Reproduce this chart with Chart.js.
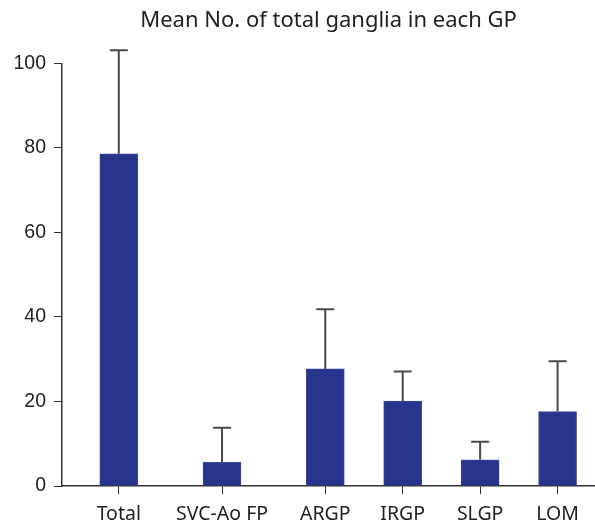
<!DOCTYPE html>
<html>
<head>
<meta charset="utf-8">
<script src="https://cdn.jsdelivr.net/npm/chart.js@4.4.1/dist/chart.umd.min.js"></script>
<style>
  html, body { margin: 0; padding: 0; background: #fff; }
  #wrap { width: 595px; height: 526px; }
</style>
</head>
<body>
<div id="wrap"><canvas id="chartGP"></canvas></div>
<script>
// ================= DATOS =================
const categories = ['Total', 'SVC-Ao FP', 'ARGP', 'IRGP', 'SLGP', 'LOM'];
const meanGanglia = [78.6, 5.6, 27.7, 20.1, 6.2, 17.6];
const upperError = [103.1, 13.8, 41.8, 27.1, 10.5, 29.5];
const yTicks = [0, 20, 40, 60, 80, 100];

// layout: where each group sits along the x axis (uneven spacing in the original)
const slots = [0, 4, 8, 11, 14, 17];

const barColor = '#29358c';

// ================= ERROR BARS =================
const errorBars = {
    id: 'errorBars',
    afterDatasetsDraw(chart) {
        const meta = chart.getDatasetMeta(0);
        const yScale = chart.scales.y;
        const ctx = chart.ctx;
        ctx.save();
        ctx.strokeStyle = '#4a4a4a';
        ctx.lineWidth = 2;
        meta.data.forEach((bar, i) => {
            const top = yScale.getPixelForValue(upperError[i]);
            ctx.beginPath();
            ctx.moveTo(bar.x, bar.y);
            ctx.lineTo(bar.x, top);
            ctx.moveTo(bar.x - 9, top);
            ctx.lineTo(bar.x + 9, top);
            ctx.stroke();
        });
        ctx.restore();
    }
};

// ================= GRÁFICO =================
new Chart(document.getElementById('chartGP'), {
    type: 'bar',
    data: {
        datasets: [{
            data: meanGanglia.map((v, i) => ({ x: slots[i], y: v })),
            backgroundColor: barColor,
            borderColor: '#3a46a0',
            borderWidth: 1,
            barThickness: 38
        }]
    },
    options: {
        responsive: true,
        maintainAspectRatio: false,
        animation: false,
        layout: { padding: 0 },
        plugins: {
            legend: { display: false },
            tooltip: { enabled: false },
            title: {
                display: true,
                text: 'Mean No. of total ganglia in each GP',
                fullSize: false,
                color: '#222',
                font: { family: 'Noto Sans', size: 22, weight: 'normal', lineHeight: 1.2 },
                padding: { top: 8, bottom: 29 }
            }
        },
        scales: {
            x: {
                type: 'linear',
                min: -2.2,
                max: 18.45,
                offset: false,
                afterBuildTicks: (axis) => { axis.ticks = slots.map(v => ({ value: v })); },
                afterFit: (axis) => { axis.height = 40; },
                ticks: {
                    autoSkip: false,
                    maxRotation: 0,
                    padding: 9,
                    color: '#222',
                    font: { family: 'Noto Sans', size: 19.5 },
                    callback: (v) => categories[slots.indexOf(v)] ?? ''
                },
                grid: { drawOnChartArea: false, drawTicks: true, tickLength: 8, color: '#333', offset: false },
                border: { color: '#333', width: 1.5 }
            },
            y: {
                min: 0,
                max: 100,
                afterBuildTicks: (axis) => { axis.ticks = yTicks.map(v => ({ value: v })); },
                afterFit: (axis) => { axis.width = 62; },
                ticks: {
                    padding: 8,
                    color: '#222',
                    font: { family: 'Liberation Sans', size: 19.5 }
                },
                grid: { drawOnChartArea: false, drawTicks: true, tickLength: 8, color: '#333' },
                border: { color: '#333', width: 1.5 }
            }
        }
    },
    plugins: [errorBars]
});
</script>
</body>
</html>
